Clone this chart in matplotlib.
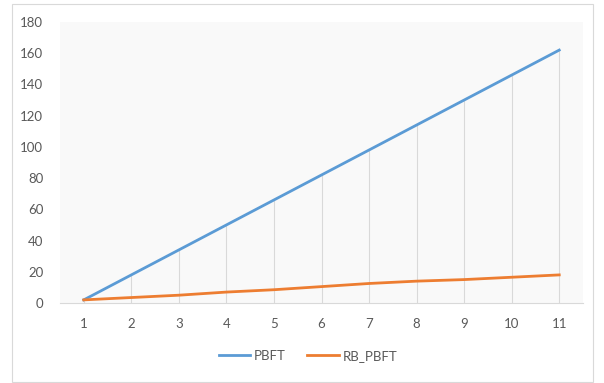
import matplotlib
matplotlib.use('Agg')
import matplotlib.pyplot as plt
from matplotlib.patches import Rectangle

# Series values per round
rounds = [1, 2, 3, 4, 5, 6, 7, 8, 9, 10, 11]
pbft = [2, 18, 34, 50, 66, 82, 98, 114, 130, 146, 162]
rb_pbft = [2, 3.5, 5, 7, 8.5, 10.5, 12.5, 14, 15, 16.5, 18]
y_ticks = [0, 20, 40, 60, 80, 100, 120, 140, 160, 180]

plt.rcParams['font.family'] = ['Lato', 'DejaVu Sans']

W, H = 604, 383
fig = plt.figure(figsize=(W / 100, H / 100), dpi=100)

# Chart frame
fig.patches.append(Rectangle((12 / W, 1 - 382 / H), 581 / W, 378 / H,
                             transform=fig.transFigure, fill=False,
                             edgecolor='#D9D9D9', linewidth=0.8))

ax = fig.add_axes([60 / W, 1 - 303 / H, 523 / W, 281 / H])
ax.set_facecolor('#F9F9F9')

# Drop lines from the upper series to the axis
ax.vlines(rounds, 0, pbft, color='#D9D9D9', linewidth=0.8, zorder=1)

ax.plot(rounds, pbft, color='#5B9BD5', linewidth=2.0, label='PBFT', zorder=3)
ax.plot(rounds, rb_pbft, color='#ED7D31', linewidth=2.0, label='RB_PBFT', zorder=3)

ax.set_xlim(0.5, 11.5)
ax.set_ylim(0, 180)
ax.set_xticks(rounds)
ax.set_yticks(y_ticks)

for side in ['top', 'right', 'left']:
    ax.spines[side].set_visible(False)
ax.spines['bottom'].set_color('#D9D9D9')
ax.tick_params(axis='both', length=0, labelsize=9.5, colors='#595959')
ax.tick_params(axis='x', pad=11)
ax.tick_params(axis='y', pad=12)

ax.legend(loc='center', bbox_to_anchor=(308 / W, 1 - 356 / H),
          bbox_transform=fig.transFigure, ncol=2, frameon=False,
          fontsize=9.5, labelcolor='#595959', handlelength=2.4,
          handletextpad=0.3, columnspacing=1.6)

fig.savefig('out.png', dpi=100)
